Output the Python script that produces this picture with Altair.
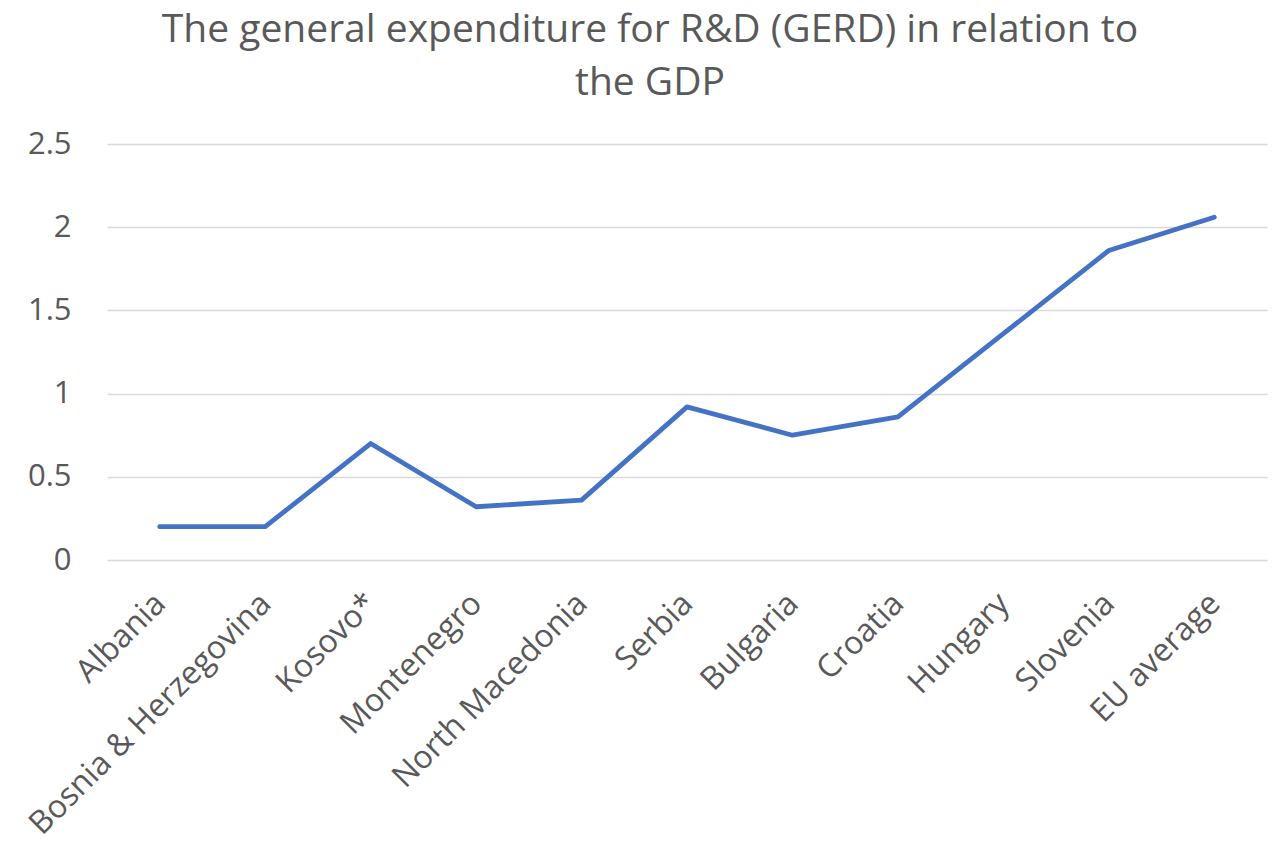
import altair as alt
import pandas as pd

countries = ["Albania", "Bosnia & Herzegovina", "Kosovo*", "Montenegro", "North Macedonia",
             "Serbia", "Bulgaria", "Croatia", "Hungary", "Slovenia", "EU average"]
gerd = [0.20, 0.20, 0.70, 0.32, 0.36, 0.92, 0.75, 0.86, 1.36, 1.86, 2.06]
y_ticks = [0, 0.5, 1, 1.5, 2, 2.5]

df = pd.DataFrame({"country": countries, "gerd": gerd})

FONT = "Open Sans"
GREY = "#595959"

chart = alt.Chart(df).mark_line(color="#4472C4", strokeWidth=4.8, strokeCap="round",
                                strokeJoin="round").encode(
    x=alt.X("country:N", sort=countries, title=None,
            scale=alt.Scale(paddingInner=0, paddingOuter=0.5),
            axis=alt.Axis(labelAngle=-45, labelAlign="right", labelBaseline="middle",
                          labelFontSize=32, labelColor=GREY, labelFont=FONT,
                          ticks=False, domain=False, grid=False, labelPadding=38,
                          labelOverlap=False, labelLimit=500)),
    y=alt.Y("gerd:Q", title=None,
            scale=alt.Scale(domain=[0, 2.5], nice=False),
            axis=alt.Axis(values=y_ticks, labelFontSize=31, labelColor=GREY, labelFont=FONT,
                          ticks=False, domain=False, gridColor="#d9d9d9", gridWidth=1.5,
                          labelPadding=36, format="~g")),
).properties(
    width=1160,
    height=416,
    title=alt.TitleParams(
        text=["The general expenditure for R&D (GERD) in relation to", "the GDP"],
        fontSize=39, font=FONT, color=GREY, fontWeight="normal",
        anchor="middle", dx=-37, offset=25, lineHeight=53,
    ),
    autosize=alt.AutoSizeParams(type="none"),
    padding={"left": 99, "top": 136, "right": 5, "bottom": 280},
).configure_view(stroke=None)

chart.save("out.html", embed_options={"renderer": "svg", "actions": False})
